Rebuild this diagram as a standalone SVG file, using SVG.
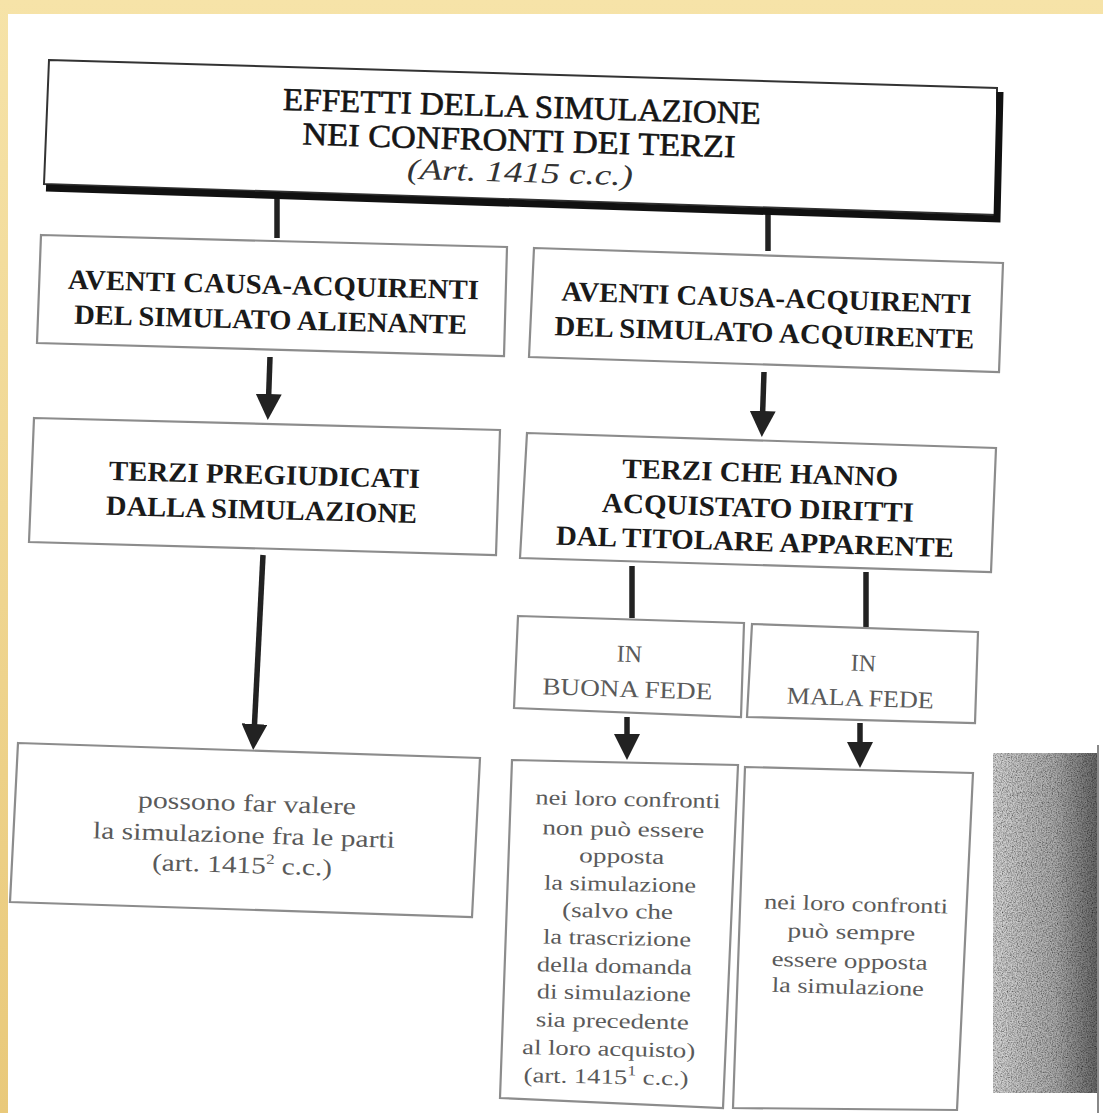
<svg xmlns="http://www.w3.org/2000/svg" width="1103" height="1113" viewBox="0 0 1103 1113">
  <style>
    .box { fill: #ffffff; stroke: #8c8c8c; stroke-width: 2.2; stroke-linejoin: miter; }
    .hd { font-family: "Liberation Serif", "Times New Roman", serif; font-weight: bold; font-size: 28px; fill: #1a1a1a; text-anchor: middle; }
    .ttl { font-family: "Liberation Serif", "Times New Roman", serif; font-size: 32px; fill: #151515; text-anchor: middle; stroke: #151515; stroke-width: 0.6; }
    .ttli { font-family: "Liberation Serif", "Times New Roman", serif; font-style: italic; font-size: 29px; fill: #333; text-anchor: middle; }
    .lt { font-family: "Liberation Serif", "Times New Roman", serif; font-size: 24px; fill: #5a5a5a; text-anchor: middle; }
    .sm { font-family: "Liberation Serif", "Times New Roman", serif; font-size: 21px; fill: #5a5a5a; text-anchor: middle; }
    .sup { font-size: 14px; }
    .wire { stroke: #222; stroke-width: 5.5; fill: none; stroke-linecap: butt; }
  </style>
  <defs>
    <linearGradient id="bg" x1="0" y1="0" x2="0" y2="1">
      <stop offset="0" stop-color="#f6e3a8"/>
      <stop offset="1" stop-color="#e9c97a"/>
    </linearGradient>
    <linearGradient id="strip" x1="0" y1="0" x2="1" y2="0">
      <stop offset="0" stop-color="#d6d6d6"/>
      <stop offset="0.6" stop-color="#ababab"/>
      <stop offset="1" stop-color="#6a6a6a"/>
    </linearGradient>
    <filter id="grain" x="0" y="0" width="1" height="1">
      <feTurbulence type="fractalNoise" baseFrequency="0.8" numOctaves="2" seed="3" result="n"/>
      <feColorMatrix in="n" type="matrix" values="0 0 0 0 0  0 0 0 0 0  0 0 0 0 0  1.6 0 0 0 -0.55" result="dots"/>
      <feComposite in="dots" in2="SourceGraphic" operator="in" result="d2"/>
      <feMerge><feMergeNode in="SourceGraphic"/><feMergeNode in="d2"/></feMerge>
    </filter>
    <marker id="ah" viewBox="0 0 10 10" refX="7.7" refY="5" markerWidth="26" markerHeight="26" markerUnits="userSpaceOnUse" orient="auto">
      <path d="M0,0 L10,5 L0,10 z" fill="#222"/>
    </marker>
  </defs>

  <!-- page background -->
  <rect x="0" y="0" width="1103" height="1113" fill="url(#bg)"/>
  <rect x="8" y="14" width="1095" height="1099" fill="#ffffff"/>
  <rect x="993" y="753" width="104" height="340" fill="url(#strip)" filter="url(#grain)"/>
  <line x1="1098" y1="745" x2="1098" y2="1113" stroke="#888" stroke-width="2"/>

  <!-- connectors -->
  <g id="connectors">
    <line class="wire" x1="277" y1="190" x2="277" y2="238"/>
    <line class="wire" x1="768" y1="214" x2="768" y2="251"/>
    <line class="wire" x1="270" y1="357" x2="268" y2="414" marker-end="url(#ah)"/>
    <line class="wire" x1="263" y1="555" x2="253.5" y2="744" marker-end="url(#ah)"/>
    <line class="wire" x1="764" y1="372" x2="762" y2="431" marker-end="url(#ah)"/>
    <line class="wire" x1="632" y1="566" x2="632" y2="618"/>
    <line class="wire" x1="866" y1="572" x2="866" y2="627"/>
    <line class="wire" x1="627" y1="717" x2="627" y2="754" marker-end="url(#ah)"/>
    <line class="wire" x1="860" y1="723" x2="860" y2="762" marker-end="url(#ah)"/>
  </g>

  <!-- title node -->
  <g id="n-title">
    <polygon points="49,60 997,88 997,215 44,184" fill="#fff" stroke="#333" stroke-width="2"/>
    <polyline points="46,188 997,219 1000,92" fill="none" stroke="#111" stroke-width="7"/>
    <g transform="rotate(1.7 520 140)">
      <text class="ttl" x="521" y="117" textLength="478" lengthAdjust="spacingAndGlyphs">EFFETTI DELLA SIMULAZIONE</text>
      <text class="ttl" x="519" y="151" textLength="433" lengthAdjust="spacingAndGlyphs">NEI CONFRONTI DEI TERZI</text>
      <text class="ttli" x="521" y="182" textLength="226" lengthAdjust="spacingAndGlyphs">(Art. 1415 c.c.)</text>
    </g>
  </g>

  <!-- left branch -->
  <g id="n-alienante">
    <polygon class="box" points="41,235 507,247 504,356 37,343"/>
    <g transform="rotate(1.5 272 303)">
      <text class="hd" x="273" y="294" textLength="411" lengthAdjust="spacingAndGlyphs">AVENTI CAUSA-ACQUIRENTI</text>
      <text class="hd" x="271" y="329" textLength="393" lengthAdjust="spacingAndGlyphs">DEL SIMULATO ALIENANTE</text>
    </g>
  </g>

  <g id="n-pregiudicati">
    <polygon class="box" points="34,418 500,430 496,555 29,542"/>
    <g transform="rotate(1.5 264 493)">
      <text class="hd" x="264" y="484" textLength="311" lengthAdjust="spacingAndGlyphs">TERZI PREGIUDICATI</text>
      <text class="hd" x="262" y="519" textLength="311" lengthAdjust="spacingAndGlyphs">DALLA SIMULAZIONE</text>
    </g>
  </g>

  <g id="n-possono">
    <polygon class="box" points="18,743 480,758 472,917 10,902"/>
    <g transform="rotate(1.8 245 836)">
      <text class="lt" x="246" y="811" textLength="218" lengthAdjust="spacingAndGlyphs">possono far valere</text>
      <text class="lt" x="244" y="843" textLength="302" lengthAdjust="spacingAndGlyphs">la simulazione fra le parti</text>
      <text class="lt" x="243" y="873" textLength="180" lengthAdjust="spacingAndGlyphs">(art. 1415<tspan class="sup" dy="-10">2</tspan><tspan dy="10"> c.c.)</tspan></text>
    </g>
  </g>

  <!-- right branch -->
  <g id="n-acquirente">
    <polygon class="box" points="534,248 1003,263 999,372 529,357"/>
    <g transform="rotate(1.8 766 315)">
      <text class="hd" x="766" y="307" textLength="410" lengthAdjust="spacingAndGlyphs">AVENTI CAUSA-ACQUIRENTI</text>
      <text class="hd" x="765" y="342" textLength="420" lengthAdjust="spacingAndGlyphs">DEL SIMULATO ACQUIRENTE</text>
    </g>
  </g>

  <g id="n-titolare">
    <polygon class="box" points="527,433 996,448 991,572 520,558"/>
    <g transform="rotate(1.8 758 508)">
      <text class="hd" x="759" y="482" textLength="276" lengthAdjust="spacingAndGlyphs">TERZI CHE HANNO</text>
      <text class="hd" x="758" y="517" textLength="312" lengthAdjust="spacingAndGlyphs">ACQUISTATO DIRITTI</text>
      <text class="hd" x="756" y="551" textLength="398" lengthAdjust="spacingAndGlyphs">DAL TITOLARE APPARENTE</text>
    </g>
  </g>

  <g id="n-buona">
    <polygon class="box" points="518,616 744,623 741,717 514,708"/>
    <g transform="rotate(1.8 629 670)">
      <text class="lt" x="629" y="662">IN</text>
      <text class="lt" x="628" y="697" textLength="170" lengthAdjust="spacingAndGlyphs">BUONA FEDE</text>
    </g>
  </g>

  <g id="n-mala">
    <polygon class="box" points="752,624 978,632 975,723 747,717"/>
    <g transform="rotate(2 862 678)">
      <text class="lt" x="863" y="671">IN</text>
      <text class="lt" x="861" y="706" textLength="147" lengthAdjust="spacingAndGlyphs">MALA FEDE</text>
    </g>
  </g>

  <g id="n-nonopposta">
    <polygon class="box" points="512,760 738,765 723,1108 500,1098"/>
    <g transform="rotate(1.2 620 940)">
      <text class="sm" x="625" y="806" textLength="185" lengthAdjust="spacingAndGlyphs">nei loro confronti</text>
      <text class="sm" x="621" y="836" textLength="162" lengthAdjust="spacingAndGlyphs">non può essere</text>
      <text class="sm" x="620" y="863" textLength="85" lengthAdjust="spacingAndGlyphs">opposta</text>
      <text class="sm" x="619" y="891" textLength="152" lengthAdjust="spacingAndGlyphs">la simulazione</text>
      <text class="sm" x="617" y="918" textLength="111" lengthAdjust="spacingAndGlyphs">(salvo che</text>
      <text class="sm" x="617" y="945" textLength="148" lengthAdjust="spacingAndGlyphs">la trascrizione</text>
      <text class="sm" x="615" y="973" textLength="155" lengthAdjust="spacingAndGlyphs">della domanda</text>
      <text class="sm" x="615" y="1000" textLength="154" lengthAdjust="spacingAndGlyphs">di simulazione</text>
      <text class="sm" x="614" y="1028" textLength="153" lengthAdjust="spacingAndGlyphs">sia precedente</text>
      <text class="sm" x="611" y="1056" textLength="173" lengthAdjust="spacingAndGlyphs">al loro acquisto)</text>
      <text class="sm" x="609" y="1084" textLength="165" lengthAdjust="spacingAndGlyphs">(art. 1415<tspan class="sup" dy="-9">1</tspan><tspan dy="9"> c.c.)</tspan></text>
    </g>
  </g>

  <g id="n-sempre">
    <polygon class="box" points="745,767 973,773 957,1110 733,1108"/>
    <g transform="rotate(1.5 855 945)">
      <text class="sm" x="855" y="911" textLength="184" lengthAdjust="spacingAndGlyphs">nei loro confronti</text>
      <text class="sm" x="851" y="939" textLength="128" lengthAdjust="spacingAndGlyphs">può sempre</text>
      <text class="sm" x="850" y="968" textLength="156" lengthAdjust="spacingAndGlyphs">essere opposta</text>
      <text class="sm" x="849" y="994" textLength="152" lengthAdjust="spacingAndGlyphs">la simulazione</text>
    </g>
  </g>
</svg>
